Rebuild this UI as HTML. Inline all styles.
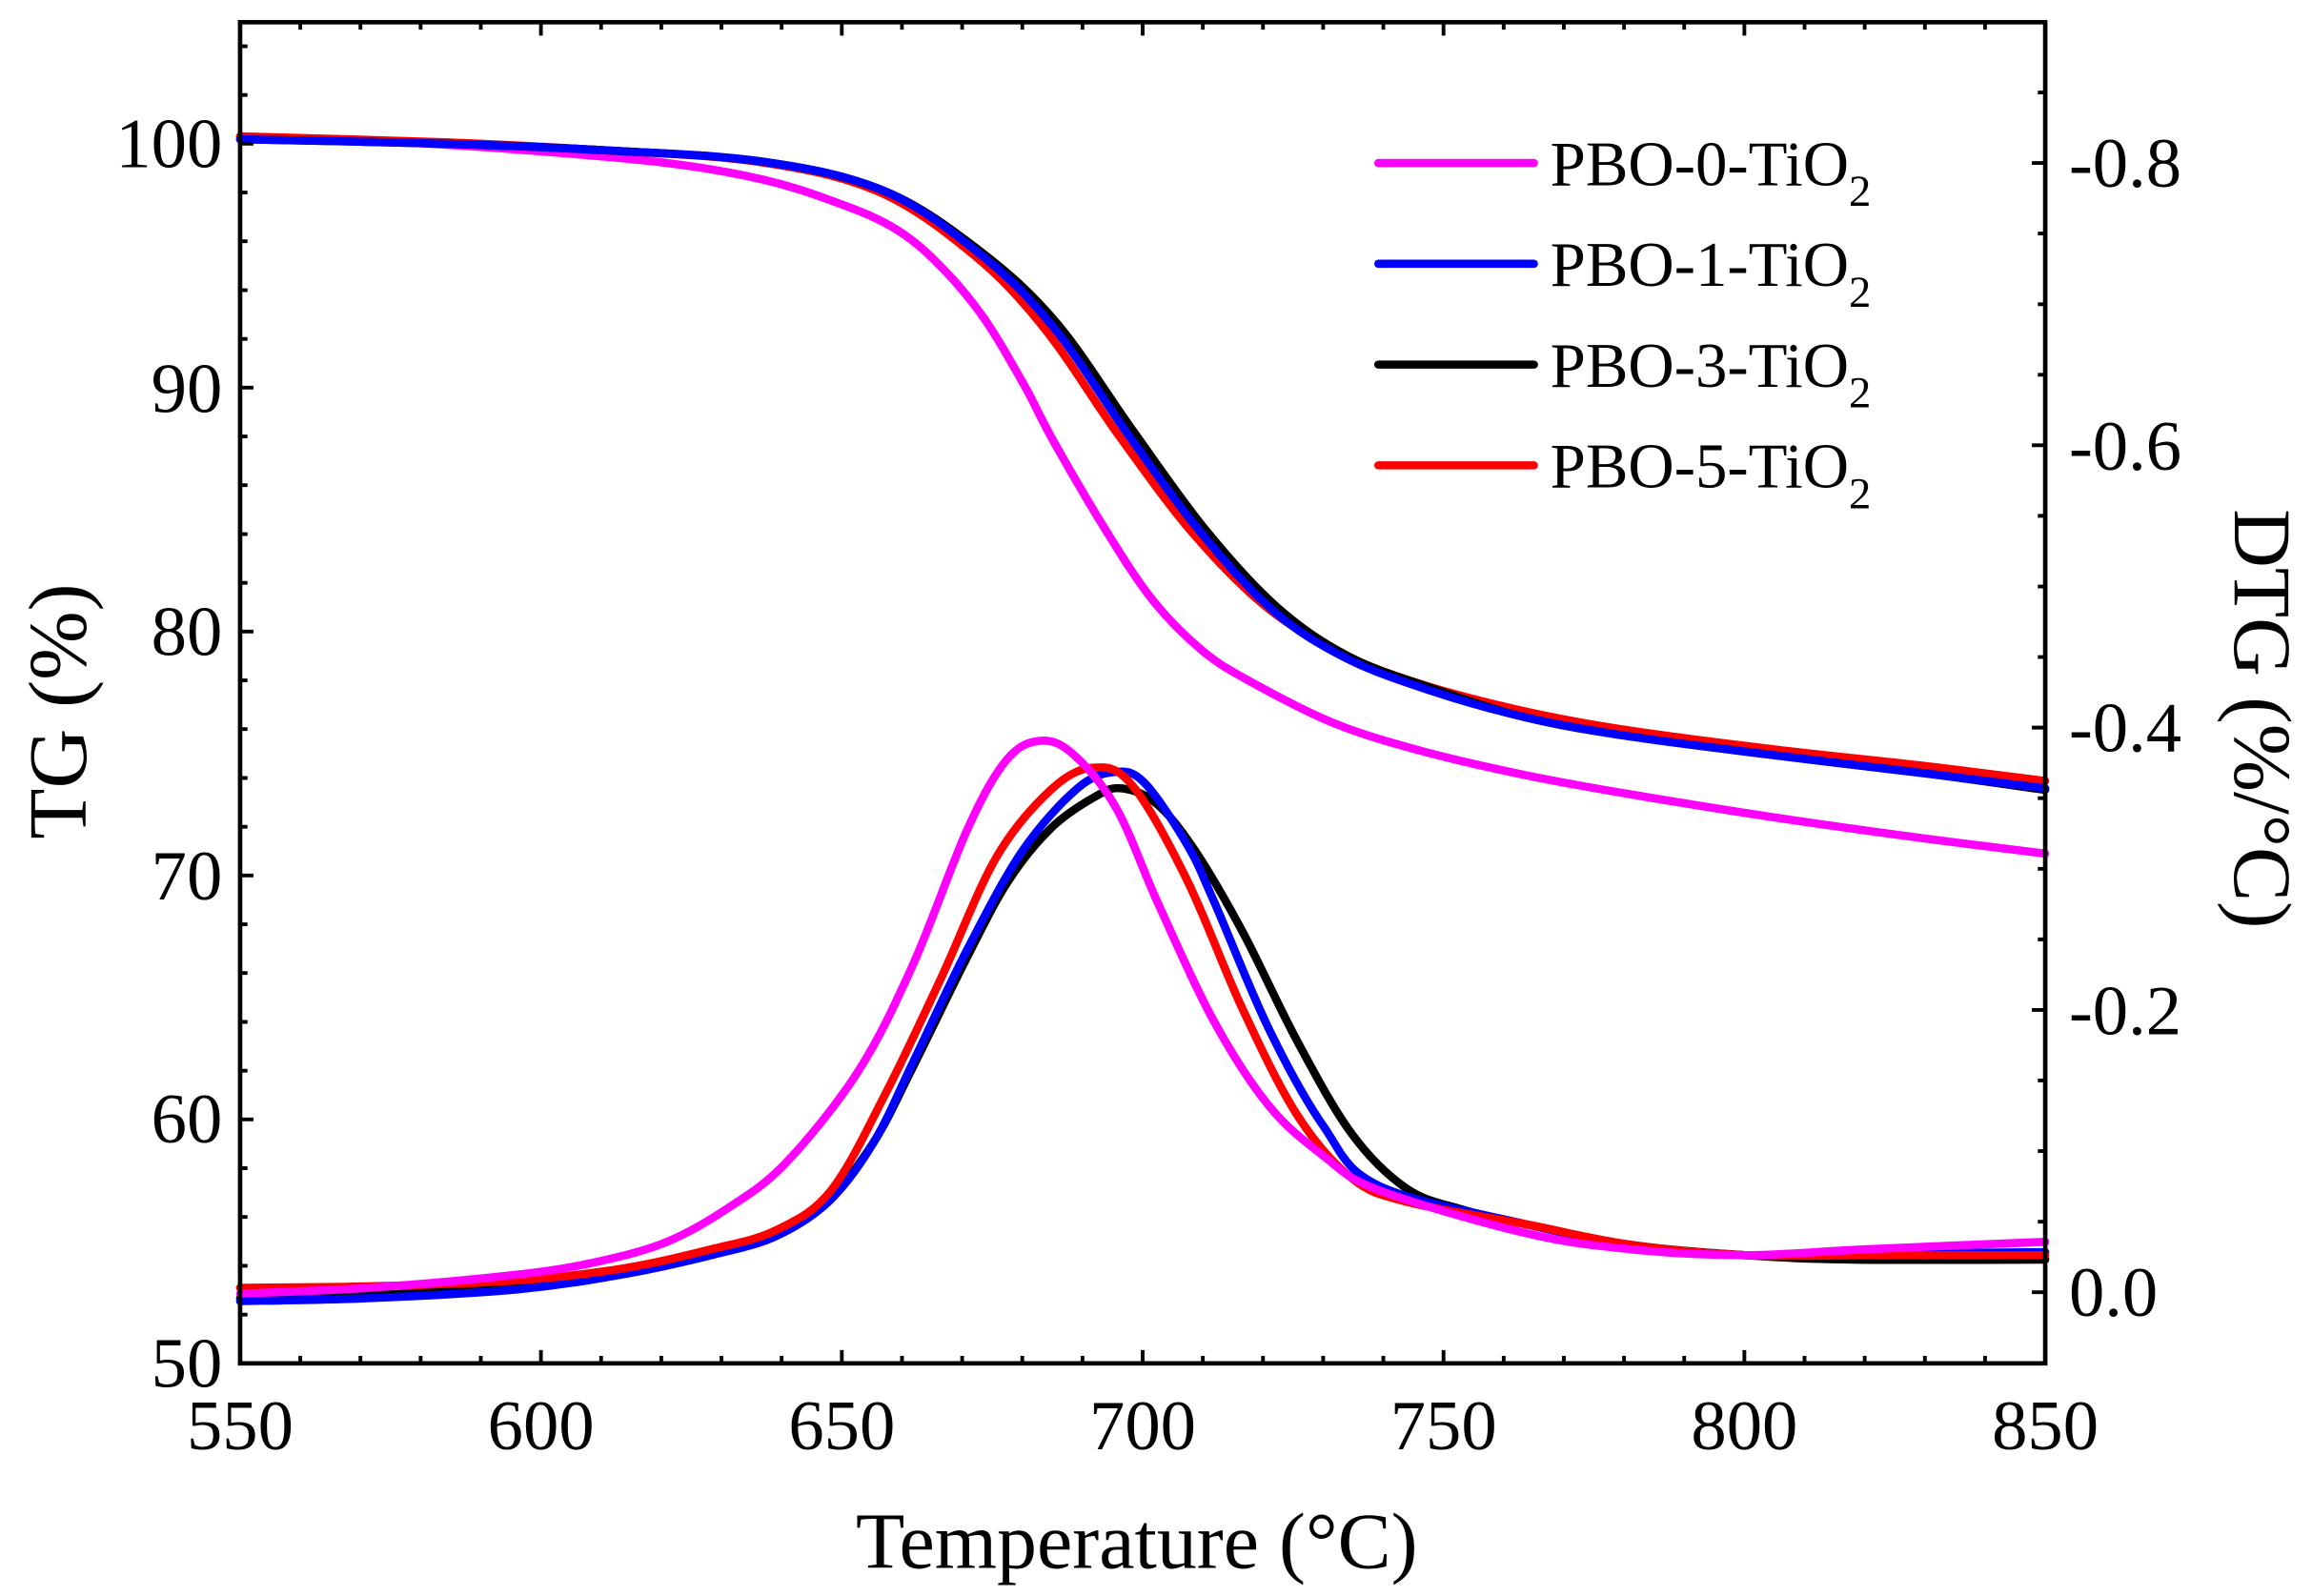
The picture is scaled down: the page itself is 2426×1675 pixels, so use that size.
<!DOCTYPE html>
<html><head><meta charset="utf-8"><style>
html,body{margin:0;padding:0;background:#fff;}
svg{display:block;}
text{font-family:"Liberation Serif",serif;fill:#000;}
</style></head><body>
<svg width="2426" height="1675" viewBox="0 0 1560 1077" preserveAspectRatio="none" xmlns="http://www.w3.org/2000/svg">
<g fill="none" stroke-linejoin="round" stroke-linecap="round" stroke-width="5.5">
<!-- TG curves -->
<polyline class="c" stroke="#ff00ff" points="162,92 250,95 350,101 450,110 514,121 560,135 600,152 630,175 662,212 690,258 711,298 745,356 777,404 810,438 842,459 900,488 960,507 1029,523 1100,536 1200,552 1300,566 1380,576"/>
<polyline class="c" stroke="#ff0000" points="162,92 300,96 400,101 510,109 592,129 657,172 705,222 755,294 805,360 855,410 905,441 960,462 1029,480 1100,493 1200,506 1300,517 1380,527"/>
<polyline class="c" stroke="#000000" points="162,94 300,97 400,101 514,109 597,129 662,170 713,218 764,290 813,357 862,410 910,443 965,464 1029,484 1100,497 1200,510 1300,522 1380,533"/>
<polyline class="c" stroke="#0000ff" points="162,94 300,97 400,101 514,109 597,129 662,172 711,221 761,293 810,359 859,412 908,444 965,466 1029,484 1100,497 1200,510 1300,522 1380,532"/>
<!-- DTG curves -->
<polyline class="c" stroke="#000000" points="162,876 250,874 350,868 420,858 480,845 524,832 560,808 590,770 616,720 653,645 680,595 709,559 740,537 757,532 780,542 805,572 838,628 875,702 912,765 949,802 986,816 1029,826 1100,840 1177,847 1250,850 1380,850"/>
<polyline class="c" stroke="#0000ff" points="162,878 250,876 350,870 420,860 480,847 524,834 560,810 590,770 616,717 653,640 690,574 727,532 752,521 772,528 801,570 819,608 856,694 893,760 930,800 1029,826 1100,840 1177,847 1260,846 1380,845"/>
<polyline class="c" stroke="#ff0000" points="162,869 250,868 350,864 420,856 480,843 524,830 561,803 598,737 635,660 672,579 709,533 738,518 764,530 801,594 838,680 875,752 912,795 949,811 1029,826 1100,840 1177,847 1260,847 1380,847"/>
<polyline class="c" stroke="#ff00ff" points="162,873 250,869 350,860 405,851 450,838 490,816 530,785 579,723 616,651 653,559 679,513 701,500 723,508 753,545 782,611 819,689 856,746 893,780 930,803 1029,832 1100,843 1177,847 1260,843 1380,838"/>
<!-- legend lines -->
<line x1="930" y1="110" x2="1035" y2="110" stroke="#ff00ff"/>
<line x1="930" y1="178" x2="1035" y2="178" stroke="#0000ff"/>
<line x1="930" y1="246" x2="1035" y2="246" stroke="#000000"/>
<line x1="930" y1="314" x2="1035" y2="314" stroke="#ff0000"/>
</g>
<!-- axes -->
<rect x="162" y="15" width="1218" height="905" fill="none" stroke="#000" stroke-width="3"/>
<g stroke="#000" stroke-width="2.5">
<path d="M162,920v-9 M202.6,920v-5 M243.2,920v-5 M283.8,920v-5 M324.4,920v-5 M365,920v-9 M405.6,920v-5 M446.2,920v-5 M486.8,920v-5 M527.4,920v-5 M568,920v-9 M608.6,920v-5 M649.2,920v-5 M689.8,920v-5 M730.4,920v-5 M771,920v-9 M811.6,920v-5 M852.2,920v-5 M892.8,920v-5 M933.4,920v-5 M974,920v-9 M1014.6,920v-5 M1055.2,920v-5 M1095.8,920v-5 M1136.4,920v-5 M1177,920v-9 M1217.6,920v-5 M1258.2,920v-5 M1298.8,920v-5 M1339.4,920v-5"/>
<path d="M202.6,15v5 M243.2,15v5 M283.8,15v5 M324.4,15v5 M365,15v9 M405.6,15v5 M446.2,15v5 M486.8,15v5 M527.4,15v5 M568,15v9 M608.6,15v5 M649.2,15v5 M689.8,15v5 M730.4,15v5 M771,15v9 M811.6,15v5 M852.2,15v5 M892.8,15v5 M933.4,15v5 M974,15v9 M1014.6,15v5 M1055.2,15v5 M1095.8,15v5 M1136.4,15v5 M1177,15v9 M1217.6,15v5 M1258.2,15v5 M1298.8,15v5 M1339.4,15v5"/>
<path d="M162,31.2h5 M162,64.1h5 M162,97h9 M162,129.9h5 M162,162.8h5 M162,195.8h5 M162,228.7h5 M162,261.6h9 M162,294.5h5 M162,327.4h5 M162,360.4h5 M162,393.3h5 M162,426.2h9 M162,459.1h5 M162,492h5 M162,525h5 M162,557.9h5 M162,590.8h9 M162,623.7h5 M162,656.6h5 M162,689.6h5 M162,722.5h5 M162,755.4h9 M162,788.3h5 M162,821.2h5 M162,854.2h5 M162,887.1h5"/>
<path d="M1380,872h-9 M1380,824.4h-5 M1380,776.8h-5 M1380,729.1h-5 M1380,681.5h-9 M1380,633.9h-5 M1380,586.3h-5 M1380,538.6h-5 M1380,491h-9 M1380,443.4h-5 M1380,395.8h-5 M1380,348.1h-5 M1380,300.5h-9 M1380,252.9h-5 M1380,205.3h-5 M1380,157.6h-5 M1380,110h-9 M1380,62.4h-5"/>
</g>
<g font-size="48" text-anchor="end">
<text x="150" y="113">100</text>
<text x="150" y="278">90</text>
<text x="150" y="442">80</text>
<text x="150" y="607">70</text>
<text x="150" y="771">60</text>
<text x="150" y="936">50</text>
</g>
<g font-size="48" text-anchor="start">
<text x="1396" y="126">-0.8</text>
<text x="1396" y="317">-0.6</text>
<text x="1396" y="507">-0.4</text>
<text x="1396" y="698">-0.2</text>
<text x="1396" y="888">0.0</text>
</g>
<g font-size="48" text-anchor="middle">
<text x="162" y="978">550</text>
<text x="365" y="978">600</text>
<text x="568" y="978">650</text>
<text x="771" y="978">700</text>
<text x="974" y="978">750</text>
<text x="1177" y="978">800</text>
<text x="1380" y="978">850</text>
</g>
<text x="767" y="1058" font-size="54" text-anchor="middle">Temperature (°C)</text>
<text transform="translate(58,480) rotate(-90)" font-size="56" text-anchor="middle">TG (%)</text>
<text transform="translate(1508,485) rotate(90)" font-size="55" text-anchor="middle">DTG (%/°C)</text>
<g font-size="43">
<text x="1046" y="125">PBO-0-TiO<tspan font-size="30" dy="14">2</tspan></text>
<text x="1046" y="193">PBO-1-TiO<tspan font-size="30" dy="14">2</tspan></text>
<text x="1046" y="261">PBO-3-TiO<tspan font-size="30" dy="14">2</tspan></text>
<text x="1046" y="329">PBO-5-TiO<tspan font-size="30" dy="14">2</tspan></text>
</g>
</svg>
<script>
document.querySelectorAll('polyline.c').forEach(function(pl){
  var p=pl.getAttribute('points').trim().split(/\s+/).map(function(s){return s.split(',').map(Number);});
  var d='M'+p[0][0]+','+p[0][1];
  for(var i=0;i<p.length-1;i++){
    var p0=p[i-1]||p[i],p1=p[i],p2=p[i+1],p3=p[i+2]||p2;
    var c1x=p1[0]+(p2[0]-p0[0])/6,c1y=p1[1]+(p2[1]-p0[1])/6;
    var c2x=p2[0]-(p3[0]-p1[0])/6,c2y=p2[1]-(p3[1]-p1[1])/6;
    d+=' C'+c1x.toFixed(1)+','+c1y.toFixed(1)+' '+c2x.toFixed(1)+','+c2y.toFixed(1)+' '+p2[0]+','+p2[1];
  }
  var path=document.createElementNS('http://www.w3.org/2000/svg','path');
  path.setAttribute('d',d);path.setAttribute('stroke',pl.getAttribute('stroke'));
  pl.parentNode.replaceChild(path,pl);
});
</script>
</body></html>
